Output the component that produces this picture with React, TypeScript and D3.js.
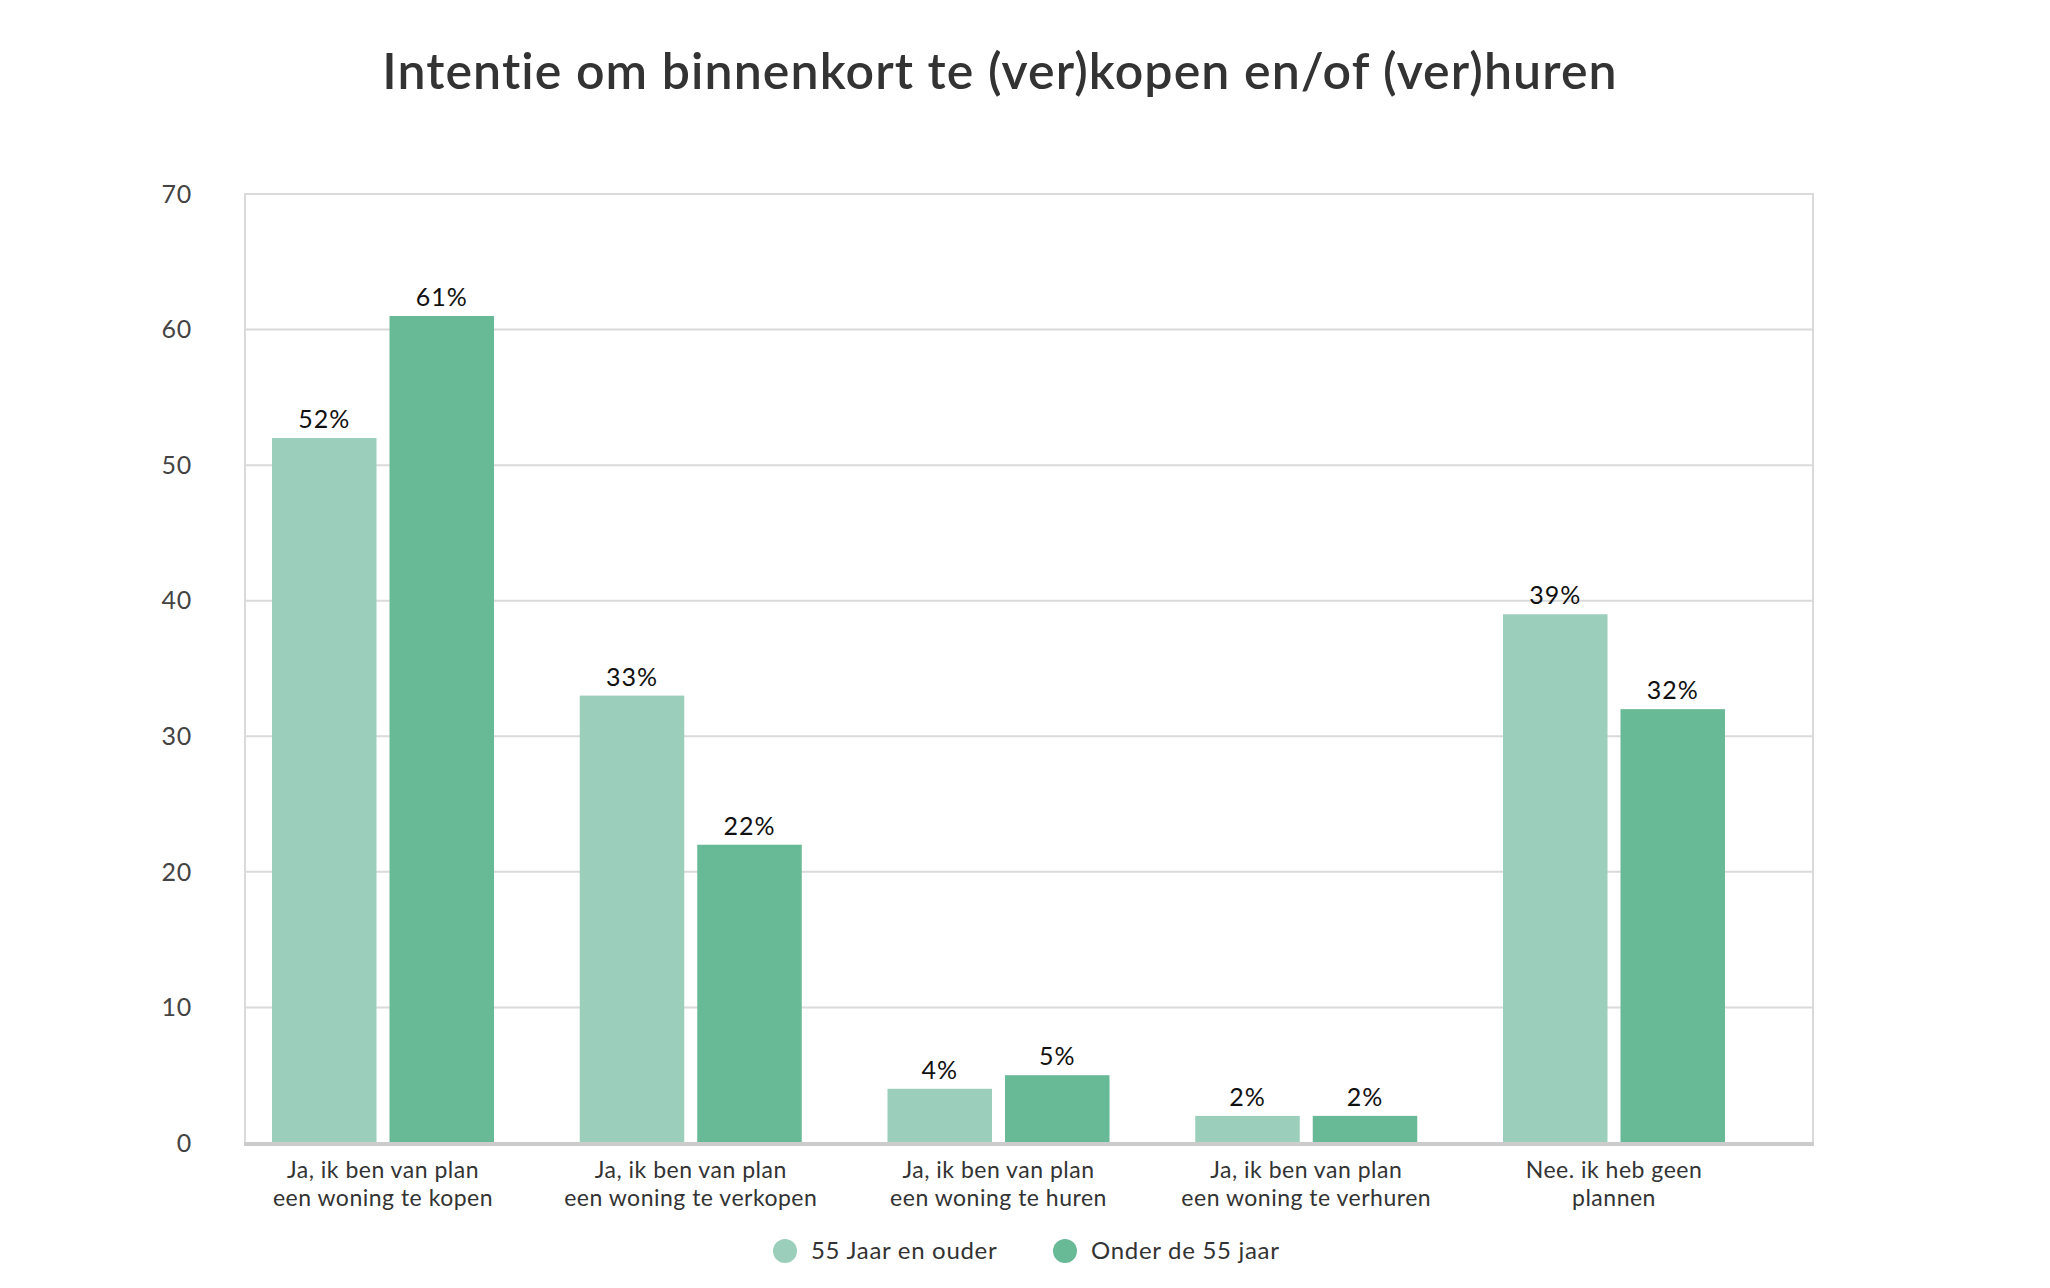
import { useEffect, useRef } from 'react'
import * as d3 from 'd3'

const categories = [
  ['Ja, ik ben van plan', 'een woning te kopen'],
  ['Ja, ik ben van plan', 'een woning te verkopen'],
  ['Ja, ik ben van plan', 'een woning te huren'],
  ['Ja, ik ben van plan', 'een woning te verhuren'],
  ['Nee. ik heb geen', 'plannen'],
]
const seriesNames = ['55 Jaar en ouder', 'Onder de 55 jaar']
const seriesColors = ['#9bcfbb', '#68b996']
const olderValues = [52, 33, 4, 2, 39]
const youngerValues = [61, 22, 5, 2, 32]
const yTicks = [0, 10, 20, 30, 40, 50, 60, 70]

const W = 2050
const H = 1288
const FONT = 'Lato, "Open Sans", sans-serif'

export default function App() {
  const svgRef = useRef<SVGSVGElement>(null)

  useEffect(() => {
    if (!svgRef.current) return
    document.body.style.margin = '0'
    const svg = d3.select(svgRef.current)
    svg.selectAll('*').remove()

    const left = 245
    const right = 1813
    const top = 194
    const bottom = 1143

    const y = d3.scaleLinear().domain([0, 70]).range([bottom, top])

    // groups don't fill the whole plot, the right side has extra room
    const step = 307.75
    const firstCenter = 383
    const x0 = d3.scaleBand<number>()
      .domain(d3.range(categories.length))
      .range([firstCenter - step / 2, firstCenter - step / 2 + step * categories.length])
    const x1 = d3.scaleBand<number>()
      .domain([0, 1])
      .range([0, 222])
      .paddingInner(13 / 117.5)

    svg.append('rect').attr('width', W).attr('height', H).attr('fill', '#fff')

    // title
    svg.append('text')
      .attr('x', 1000)
      .attr('y', 89)
      .attr('text-anchor', 'middle')
      .attr('font-family', FONT)
      .attr('font-size', 50)
      .attr('font-weight', 600)
      .attr('letter-spacing', 1.1)
      .style('font-variant-ligatures', 'none')
      .attr('fill', '#333')
      .text('Intentie om binnenkort te (ver)kopen en/of (ver)huren')

    // grid
    const g = svg.append('g')
    g.selectAll('line.grid')
      .data(yTicks.filter(t => t > 0))
      .join('line')
      .attr('x1', left)
      .attr('x2', right)
      .attr('y1', d => y(d))
      .attr('y2', d => y(d))
      .attr('stroke', '#dadada')
      .attr('stroke-width', 2)

    // left and right frame
    g.append('line')
      .attr('x1', left).attr('x2', left)
      .attr('y1', top - 1).attr('y2', bottom)
      .attr('stroke', '#dadada').attr('stroke-width', 2)
    g.append('line')
      .attr('x1', right).attr('x2', right)
      .attr('y1', top - 1).attr('y2', bottom)
      .attr('stroke', '#dadada').attr('stroke-width', 2)

    // y tick labels
    g.selectAll('text.ytick')
      .data(yTicks)
      .join('text')
      .attr('x', 192)
      .attr('y', d => y(d))
      .attr('dy', '0.35em')
      .attr('text-anchor', 'end')
      .attr('font-family', FONT)
      .attr('font-size', 25)
      .attr('letter-spacing', 0.8)
      .attr('fill', '#444')
      .text(d => d)

    // bars
    const values = [olderValues, youngerValues]
    values.forEach((vals, s) => {
      const bars = svg.append('g')
      vals.forEach((v, i) => {
        const bx = x0(i)! + x0.bandwidth() / 2 - 111 + x1(s)!
        bars.append('rect')
          .attr('x', bx)
          .attr('y', y(v))
          .attr('width', x1.bandwidth())
          .attr('height', y(0) - y(v))
          .attr('fill', seriesColors[s])
        bars.append('text')
          .attr('x', bx + x1.bandwidth() / 2)
          .attr('y', y(v) - 10)
          .attr('text-anchor', 'middle')
          .attr('font-family', FONT)
          .attr('font-size', 25)
          .attr('letter-spacing', 1)
          .attr('fill', '#111')
          .text(v + '%')
      })
    })

    // x axis line
    svg.append('line')
      .attr('x1', left - 1)
      .attr('x2', right + 1)
      .attr('y1', bottom + 1)
      .attr('y2', bottom + 1)
      .attr('stroke', '#cccccc')
      .attr('stroke-width', 4)

    // category labels
    categories.forEach((lines, i) => {
      const cx = x0(i)! + x0.bandwidth() / 2
      const t = svg.append('text')
        .attr('text-anchor', 'middle')
        .attr('font-family', FONT)
        .attr('font-size', 23)
        .attr('letter-spacing', 0.5)
        .attr('fill', '#333')
      lines.forEach((line, k) => {
        t.append('tspan')
          .attr('x', cx)
          .attr('y', 1178 + k * 28)
          .text(line)
      })
    })

    // legend
    const legendX = [785, 1065]
    seriesNames.forEach((name, s) => {
      svg.append('circle')
        .attr('cx', legendX[s])
        .attr('cy', 1251)
        .attr('r', 12)
        .attr('fill', seriesColors[s])
      svg.append('text')
        .attr('x', legendX[s] + 26)
        .attr('y', 1251)
        .attr('dy', '0.35em')
        .attr('font-family', FONT)
        .attr('font-size', 24)
        .attr('letter-spacing', 0.7)
        .attr('fill', '#333')
        .text(name)
    })
  }, [])

  return <svg ref={svgRef} width={W} height={H} style={{ display: 'block' }} />
}
